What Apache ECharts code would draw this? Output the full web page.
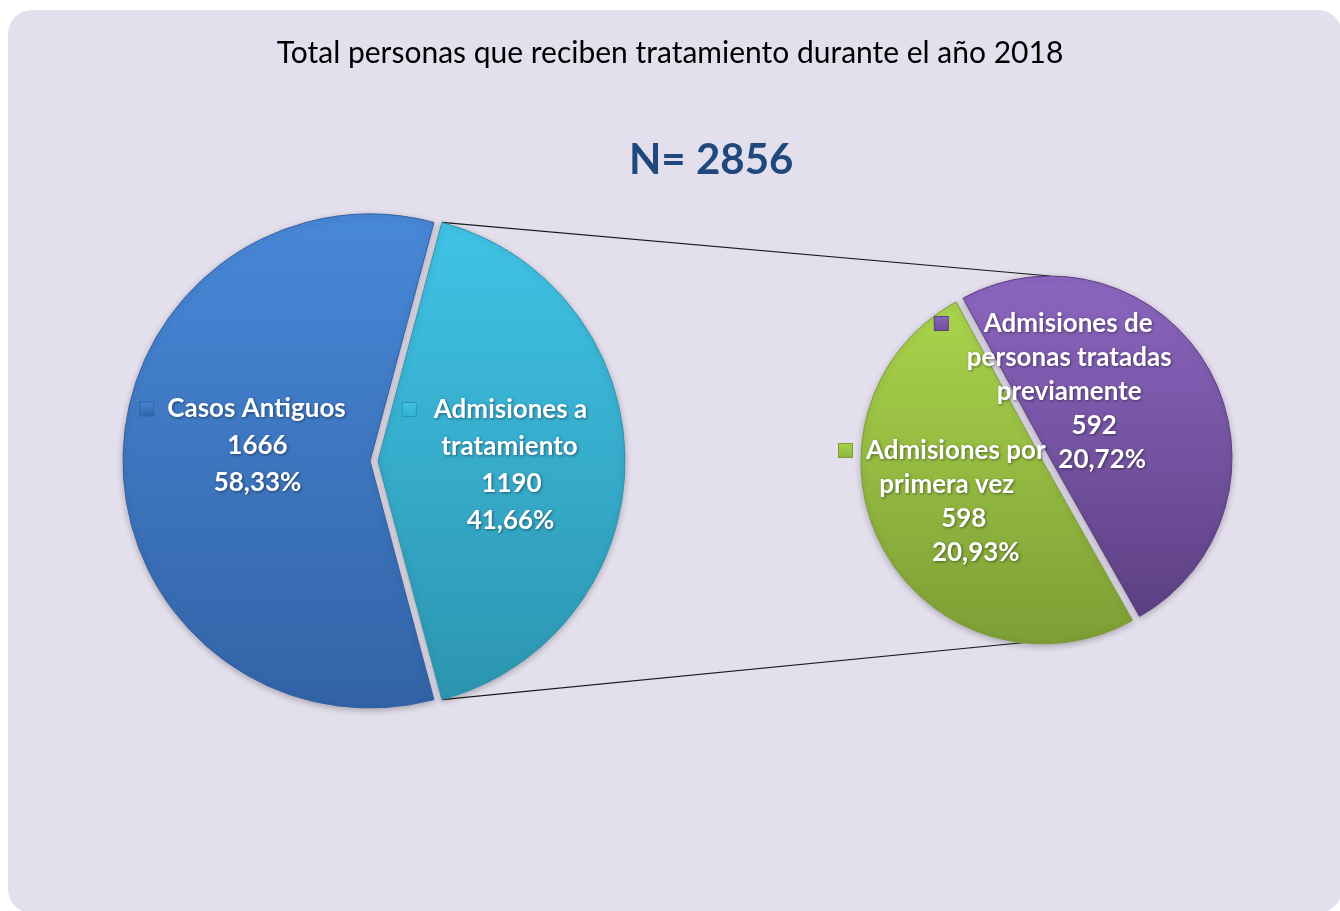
<!DOCTYPE html>
<html>
<head>
<meta charset="utf-8">
<title>Total personas que reciben tratamiento durante el año 2018</title>
<script src="https://cdn.jsdelivr.net/npm/echarts@6/dist/echarts.min.js"></script>
<style>
	html,body{
		margin:0;
		padding:0;
		background:#fff;
	}
	#main{
		width:1340px;
		height:911px;
	}
</style>
</head>
<body>
<div id="main"></div>
<script type="text/javascript">
// datos
var titulo = 'Total personas que reciben tratamiento durante el año 2018';
var total = 2856;
var nombresPrincipal = ['Admisiones a tratamiento', 'Casos Antiguos'];
var lineasPrincipal = [['Admisiones a', 'tratamiento'], ['Casos Antiguos']];
var valoresPrincipal = [1190, 1666];
var nombresSecundario = ['Admisiones de personas tratadas previamente', 'Admisiones por primera vez'];
var lineasSecundario = [['Admisiones de', 'personas tratadas', 'previamente'], ['Admisiones por', 'primera vez']];
var valoresSecundario = [592, 598];

// colores [arriba, abajo, marcador]
var coloresPrincipal = [['#40C3E6', '#2C95B0', '#35B0CF'], ['#4888D8', '#3263A6', '#2F63A8']];
var coloresSecundario = [['#8C66C0', '#5D4083', '#6D4D98'], ['#AAD44C', '#7D9E35', '#8CB53C']];

// geometria
var c1 = [370, 461], r1 = 247, off1 = 8;
var c2 = [1050, 458], r2 = 182, off2 = 8;
var medioVerde = 209; // angulo central de la porcion verde

// corrimiento horizontal de cada renglon de texto (px)
var corrPrincipal = [[0, -2, 0, -1], [0, 0, 0]];
var corrSecundario = [[0, 0, 0, 25, 33], [0, -10, 7, 19]];

var fuente = 'Lato';

function pct(v){
	var p = Math.floor(v / total * 10000) / 100;
	return p.toFixed(2).replace('.', ',') + '%';
}

function grad(c){
	return new echarts.graphic.LinearGradient(0, 0, 0, 1, [
		{offset: 0, color: c[0]},
		{offset: 1, color: c[1]}
	]);
}

function renglon(txt, s, k){
	if(!s) return txt;
	if(s > 0) return '{s' + k + '|}' + txt;
	return txt + '{s' + k + '|}';
}

function etiqueta(lineas, v, corr){
	var todas = lineas.concat([String(v), pct(v)]);
	var s = '{m|}{g|}' + todas[0] + '{r|}';
	for(var i = 1; i < todas.length; i++){
		s += '\n' + renglon(todas[i], corr[i], i);
	}
	return s;
}

function richDe(col, gap, lh, corr){
	var rich = {
		m: {width: 13, height: 13, backgroundColor: new echarts.graphic.LinearGradient(0, 0, 0, 1, [
			{offset: 0, color: col[0]}, {offset: 1, color: col[2]}]),
			borderColor: col[1], borderWidth: 1, lineHeight: lh},
		g: {width: gap, lineHeight: lh},
		r: {width: 15 + gap, lineHeight: lh}
	};
	for(var i = 1; i < corr.length; i++){
		if(corr[i]) rich['s' + i] = {width: Math.abs(corr[i]) * 2, lineHeight: lh};
	}
	return rich;
}

// conEtiqueta: true -> serie transparente solo para textos (encima de todo)
function datos(nombres, lineas, valores, colores, gaps, lh, sel, corr, conEtiqueta){
	var d = [];
	for(var i = 0; i < valores.length; i++){
		var item = {
			name: nombres[i],
			value: valores[i],
			selected: i == sel
		};
		if(conEtiqueta){
			item.itemStyle = {color: 'rgba(0,0,0,0)', borderWidth: 0, shadowBlur: 0};
			item.label = {
				formatter: etiqueta(lineas[i], valores[i], corr[i]),
				lineHeight: lh,
				rich: richDe(colores[i], gaps[i], lh, corr[i])
			};
		}else{
			item.itemStyle = {
				color: grad(colores[i]),
				borderColor: colores[i][1],
				borderWidth: 1,
				shadowBlur: 6,
				shadowColor: 'rgba(0,0,0,0.25)',
				shadowOffsetY: 2
			};
		}
		d.push(item);
	}
	return d;
}

var estiloEtiqueta = {
	show: true,
	position: 'inside',
	color: '#fff',
	fontFamily: fuente,
	fontWeight: 'bold',
	fontSize: 26,
	textShadowColor: 'rgba(0,0,0,0.45)',
	textShadowBlur: 3,
	textShadowOffsetX: 1,
	textShadowOffsetY: 1
};

var sumaP = valoresPrincipal[0] + valoresPrincipal[1];
var anguloCian = 360 * valoresPrincipal[0] / sumaP;
var inicio1 = anguloCian / 2;

var sumaS = valoresSecundario[0] + valoresSecundario[1];
var inicio2 = medioVerde + 360 * valoresSecundario[0] / sumaS + 180 * valoresSecundario[1] / sumaS - 360;

// lineas de union
var rad = Math.PI / 180;
var vx = c1[0] + off1, vy = c1[1];
var uniones = [
	[vx + r1 * Math.cos(inicio1 * rad), vy - r1 * Math.sin(inicio1 * rad), c2[0], c2[1] - r2],
	[vx + r1 * Math.cos((inicio1 - anguloCian) * rad), vy - r1 * Math.sin((inicio1 - anguloCian) * rad), c2[0], c2[1] + r2]
];

var despl1 = [{dx: 7, dy: 4}, {dx: 14, dy: -15}];
var despl2 = [{dx: -63, dy: -21}, {dx: -4, dy: -6}];

function serie(centro, radio, inicio, off, data, despl, z, conEtiqueta){
	return {
		type: 'pie',
		z: z,
		center: centro,
		radius: radio,
		startAngle: inicio,
		clockwise: true,
		selectedMode: 'single',
		selectedOffset: off,
		silent: true,
		label: conEtiqueta ? estiloEtiqueta : {show: false},
		labelLine: {show: false},
		labelLayout: function(p){ return despl[p.dataIndex]; },
		data: data
	};
}

var myChart = echarts.init(document.getElementById('main'));
var option = {
	backgroundColor: '#fff',
	animation: false,
	title: [
		{
			text: titulo,
			left: 'center',
			top: 33,
			textStyle: {fontFamily: fuente, fontSize: 30, fontWeight: 'normal', color: '#000'}
		},
		{
			text: 'N= ' + total,
			left: 624,
			top: 134,
			textStyle: {fontFamily: fuente, fontSize: 42, fontWeight: 'bold', color: '#1F497D'}
		}
	],
	graphic: [
		{
			type: 'rect',
			z: 0,
			shape: {x: 8, y: 10, width: 1334, height: 903, r: 24},
			style: {fill: '#E4DFEC'}
		},
		{
			type: 'line',
			z: 1,
			shape: {x1: uniones[0][0], y1: uniones[0][1], x2: uniones[0][2], y2: uniones[0][3]},
			style: {stroke: '#1a1a1a', lineWidth: 1.2}
		},
		{
			type: 'line',
			z: 1,
			shape: {x1: uniones[1][0], y1: uniones[1][1], x2: uniones[1][2], y2: uniones[1][3]},
			style: {stroke: '#1a1a1a', lineWidth: 1.2}
		}
	],
	series: [
		serie(c1, r1, inicio1, off1, datos(nombresPrincipal, lineasPrincipal, valoresPrincipal, coloresPrincipal, [18, 14], 37, 0, corrPrincipal, false), despl1, 3, false),
		serie(c2, r2, inicio2, off2, datos(nombresSecundario, lineasSecundario, valoresSecundario, coloresSecundario, [36, 14], 34, 1, corrSecundario, false), despl2, 3, false),
		serie(c1, r1, inicio1, off1, datos(nombresPrincipal, lineasPrincipal, valoresPrincipal, coloresPrincipal, [18, 14], 37, 0, corrPrincipal, true), despl1, 5, true),
		serie(c2, r2, inicio2, off2, datos(nombresSecundario, lineasSecundario, valoresSecundario, coloresSecundario, [36, 14], 34, 1, corrSecundario, true), despl2, 5, true)
	]
};
myChart.setOption(option);
</script>
</body>
</html>
